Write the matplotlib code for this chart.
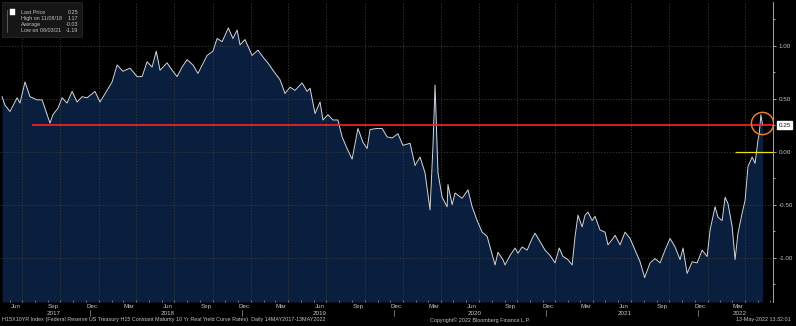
import matplotlib
matplotlib.use('Agg')
import matplotlib.pyplot as plt
import matplotlib.dates as mdates
import matplotlib.patches as patches
import pandas as pd

# H15X10YR, 10 yr real yield
dates = [
    '2017-05-14', '2017-05-21', '2017-06-02', '2017-06-19', '2017-06-26', '2017-07-08', '2017-07-20',
    '2017-08-06', '2017-08-18', '2017-08-25', '2017-09-06', '2017-09-13', '2017-09-25', '2017-10-05',
    '2017-10-17', '2017-10-29', '2017-11-10', '2017-11-22', '2017-12-04', '2017-12-23', '2018-01-04',
    '2018-01-21', '2018-02-02', '2018-02-14', '2018-02-28', '2018-03-17', '2018-04-03', '2018-04-15',
    '2018-04-27', '2018-05-09', '2018-05-19', '2018-05-28', '2018-06-14', '2018-06-26', '2018-07-08',
    '2018-07-20', '2018-08-01', '2018-08-15', '2018-08-27', '2018-09-18', '2018-10-02', '2018-10-12',
    '2018-10-24', '2018-11-08', '2018-11-19', '2018-11-29', '2018-12-06', '2018-12-18', '2019-01-04',
    '2019-01-18', '2019-02-02', '2019-02-11', '2019-02-23', '2019-03-12', '2019-03-24', '2019-04-05',
    '2019-04-17', '2019-05-04', '2019-05-16', '2019-05-23', '2019-06-04', '2019-06-16', '2019-06-23',
    '2019-07-05', '2019-07-17', '2019-07-29', '2019-08-08', '2019-08-20', '2019-09-01', '2019-09-15',
    '2019-09-27', '2019-10-07', '2019-10-14', '2019-10-31', '2019-11-12', '2019-11-24', '2019-12-06',
    '2019-12-20', '2020-01-01', '2020-01-18', '2020-01-30', '2020-02-11', '2020-02-23', '2020-03-06',
    '2020-03-13', '2020-03-18', '2020-03-25', '2020-04-04', '2020-04-16', '2020-04-18', '2020-04-28',
    '2020-05-05', '2020-05-22', '2020-06-05', '2020-06-15', '2020-06-27', '2020-07-09', '2020-07-21',
    '2020-07-28', '2020-08-09', '2020-08-16', '2020-08-28', '2020-09-02', '2020-09-14', '2020-09-26',
    '2020-10-03', '2020-10-13', '2020-10-25', '2020-11-06', '2020-11-13', '2020-11-25', '2020-12-07',
    '2020-12-19', '2020-12-31', '2021-01-10', '2021-01-19', '2021-01-31', '2021-02-10', '2021-02-17',
    '2021-02-24', '2021-03-06', '2021-03-13', '2021-03-20', '2021-03-30', '2021-04-06', '2021-04-18',
    '2021-04-30', '2021-05-07', '2021-05-17', '2021-05-24', '2021-06-05', '2021-06-17', '2021-06-29',
    '2021-07-11', '2021-07-23', '2021-08-03', '2021-08-16', '2021-08-28', '2021-09-09', '2021-09-21',
    '2021-10-03', '2021-10-15', '2021-10-27', '2021-11-03', '2021-11-13', '2021-11-25', '2021-12-07',
    '2021-12-19', '2021-12-31', '2022-01-07', '2022-01-19', '2022-01-26', '2022-02-05', '2022-02-12',
    '2022-02-19', '2022-03-01', '2022-03-08', '2022-03-15', '2022-03-25', '2022-04-01', '2022-04-08',
    '2022-04-18', '2022-04-25', '2022-05-02', '2022-05-05', '2022-05-09', '2022-05-13',
]
yields = [
    0.52, 0.44, 0.38, 0.51, 0.46, 0.66, 0.52,
    0.49, 0.49, 0.41, 0.27, 0.35, 0.41, 0.51,
    0.46, 0.57, 0.47, 0.52, 0.51, 0.57, 0.47,
    0.58, 0.66, 0.82, 0.76, 0.79, 0.71, 0.71,
    0.85, 0.80, 0.95, 0.77, 0.84, 0.77, 0.71,
    0.80, 0.87, 0.82, 0.74, 0.91, 0.95, 1.07,
    1.04, 1.17, 1.07, 1.15, 1.01, 1.06, 0.91,
    0.96, 0.88, 0.84, 0.77, 0.68, 0.55, 0.61,
    0.58, 0.65, 0.57, 0.60, 0.36, 0.47, 0.30,
    0.35, 0.30, 0.30, 0.14, 0.03, -0.07, 0.22,
    0.09, 0.03, 0.21, 0.22, 0.22, 0.14, 0.13,
    0.17, 0.06, 0.08, -0.13, -0.05, -0.20, -0.55,
    0.05, 0.63, -0.20, -0.43, -0.52, -0.31, -0.50,
    -0.39, -0.44, -0.36, -0.52, -0.65, -0.76, -0.80,
    -0.90, -1.07, -0.95, -1.02, -1.07, -0.98, -0.91,
    -0.96, -0.90, -0.93, -0.82, -0.77, -0.85, -0.93,
    -0.98, -1.05, -0.91, -0.99, -1.02, -1.07, -0.80,
    -0.60, -0.71, -0.60, -0.57, -0.65, -0.61, -0.74,
    -0.76, -0.88, -0.83, -0.79, -0.88, -0.76, -0.82,
    -0.93, -1.04, -1.19, -1.05, -1.01, -1.05, -0.93,
    -0.82, -0.90, -1.02, -0.91, -1.15, -1.04, -1.05,
    -0.93, -0.99, -0.74, -0.52, -0.62, -0.65, -0.43,
    -0.49, -0.71, -1.02, -0.77, -0.58, -0.46, -0.14,
    -0.05, -0.11, 0.11, 0.17, 0.35, 0.25,
]

legend_rows = [('Last Price', '0.25'), ('High on 11/08/18', '1.17'),
               ('Average', '-0.03'), ('Low on 08/03/21', '-1.19')]
ref_level = 0.25
ref_start = '2017-07-25'
zero_start = '2022-03-08'
circle_date = '2022-05-11'
circle_value = 0.27
year_labels = ['2017', '2018', '2019', '2020', '2021', '2022']
year_label_dates = ['2017-09-15', '2018-06-15', '2019-06-15', '2020-06-20', '2021-06-15', '2022-03-20']
year_sep_dates = ['2017-12-10', '2018-12-10', '2019-12-10', '2020-12-10', '2021-12-10']

FONT = ['Liberation Sans Narrow', 'Liberation Sans', 'DejaVu Sans']
TXT = '#c4c4c4'
W, H = 796, 326

plt.rcParams['font.family'] = FONT

x = pd.to_datetime(dates)
fig = plt.figure(figsize=(W / 100, H / 100), dpi=100, facecolor='black')
ax = fig.add_axes([0.0, 24 / H, 773 / W, 300 / H], facecolor='black')

ymin, ymax = -1.42, 1.415
ax.fill_between(x, yields, ymin, color='#0a1f3e', lw=0, zorder=1)
ax.plot(x, yields, color='#d2d6dc', lw=0.7, zorder=3)

ax.set_xlim(x[0] - pd.Timedelta(days=5), x[-1] + pd.Timedelta(days=25))
ax.set_ylim(ymin, ymax)

# grid
ax.set_axisbelow(False)
ax.yaxis.set_major_locator(plt.FixedLocator([-1.0, -0.5, 0.0, 0.5, 1.0]))
ax.yaxis.set_minor_locator(plt.MultipleLocator(0.25))
ax.xaxis.set_major_locator(mdates.MonthLocator(bymonth=[6, 9, 12, 3], bymonthday=15))
ax.xaxis.set_major_formatter(mdates.DateFormatter('%b'))
ax.xaxis.set_minor_locator(mdates.MonthLocator())
ax.grid(False)
for d in pd.date_range('2017-07-01', '2022-04-01', freq='QS'):
    ax.axvline(d, color='#3c3c3c', lw=0.6, ls=(0, (1.5, 2)), zorder=2)
for v in [-1.0, -0.5, 0.0, 0.5, 1.0]:
    ax.axhline(v, color='#3c3c3c', lw=0.6, ls=(0, (1.5, 2)), zorder=2)

for s in ['top', 'left', 'bottom']:
    ax.spines[s].set_visible(False)
ax.spines['right'].set_color('#bfbfbf')
ax.spines['right'].set_linewidth(0.6)
ax.yaxis.tick_right()
ax.yaxis.set_major_formatter(plt.FuncFormatter(lambda v, p: f'{v:.2f}'))
ax.tick_params(axis='y', which='major', colors='#bfbfbf', labelcolor=TXT, labelsize=4.5,
               length=2.5, width=0.6, pad=1.5, direction='out')
ax.tick_params(axis='y', which='minor', colors='#bfbfbf', length=1.5, width=0.6, direction='out')
ax.tick_params(axis='x', which='major', length=0, labelsize=4.5, labelcolor=TXT, pad=1.5)
ax.tick_params(axis='x', which='minor', colors='#9a9a9a', length=1.5, width=0.5, direction='in')

# year row
for lab, d in zip(year_labels, year_label_dates):
    ax.text(pd.Timestamp(d), -0.037, lab, transform=ax.get_xaxis_transform(),
            ha='center', va='center', fontsize=4.5, color=TXT, clip_on=False)
for d in year_sep_dates:
    ax.plot([pd.Timestamp(d)] * 2, [-0.025, -0.047], transform=ax.get_xaxis_transform(),
            color='#9a9a9a', lw=0.5, clip_on=False)

# reference lines
ax.hlines(ref_level, pd.Timestamp(ref_start), ax.get_xlim()[1], color='#ff2222', lw=1.2, zorder=4)
ax.hlines(0.0, pd.Timestamp(zero_start), ax.get_xlim()[1], color='#efe20a', lw=0.9, zorder=4)
ax.plot([pd.Timestamp(circle_date)], [circle_value], marker='o', ms=16, mfc='none',
        mec='#f07a1e', mew=1.1, zorder=5)
ax.annotate(f'{ref_level:.2f}', xy=(1.0, ref_level), xycoords=('axes fraction', 'data'),
            xytext=(4, 0), textcoords='offset points', ha='left', va='center',
            fontsize=4.5, color='#111111', annotation_clip=False,
            bbox=dict(boxstyle='square,pad=0.25', fc='white', ec='white'))

# legend box, top left
fig.patches.append(patches.Rectangle((2 / W, 1 - 37 / H), 80 / W, 35 / H, transform=fig.transFigure,
                                     fc='#161616', ec='#2c2c2c', lw=0.5, zorder=5))
fig.patches.append(patches.Rectangle((10 / W, 1 - 15 / H), 5 / W, 6 / H, transform=fig.transFigure,
                                     fc='white', ec='white', lw=0.3, zorder=6))
fig.add_artist(plt.Line2D([7 / W, 7 / W], [1 - 10 / H, 1 - 32 / H], color='#777777', lw=0.5, zorder=6))
for i, (lab, val) in enumerate(legend_rows):
    yy = 1 - (12.3 + 6 * i) / H
    fig.text(21 / W, yy, lab, fontsize=3.9, color=TXT, va='center', ha='left', zorder=7)
    fig.text(78 / W, yy, val, fontsize=3.9, color=TXT, va='center', ha='right', zorder=7)

# footer
fig.text(2 / W, 6 / H, 'H15X10YR Index (Federal Reserve US Treasury H15 Constant Maturity 10 Yr Real '
         'Yield Curve Rates)  Daily 14MAY2017-13MAY2022', fontsize=3.9, color=TXT, va='center')
fig.text(480 / W, 6 / H, 'Copyright\u00a9 2022 Bloomberg Finance L.P.', fontsize=3.9, color=TXT,
         va='center', ha='center')
fig.text(791 / W, 6 / H, '13-May-2022 13:32:01', fontsize=3.9, color=TXT, va='center', ha='right')

fig.savefig('out.png', dpi=100, facecolor='black')
